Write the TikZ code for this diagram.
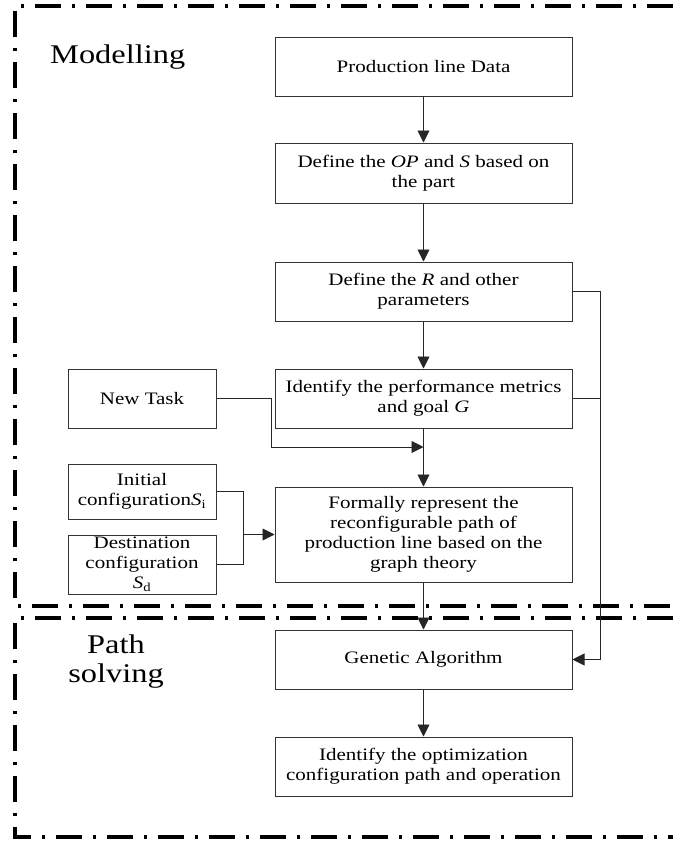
\documentclass[tikz,border=0pt]{standalone}
\usepackage{fontspec}
\setmainfont{Liberation Serif}[FakeStretch=1.2]
\usetikzlibrary{arrows.meta}
\begin{document}
\begin{tikzpicture}[x=1pt,y=-1pt,
  box/.style={draw=black!80, line width=1pt, minimum width=297pt, minimum height=59pt,
    align=center, inner sep=0pt, font=\fontsize{17.5}{20}\selectfont},
  sbox/.style={box, minimum width=148pt},
  arr/.style={draw=black!85, line width=0.9pt, -{Triangle[length=12pt,width=12pt]}},
  conn/.style={draw=black!85, line width=0.9pt},
  region/.style={draw=black, line width=3.2pt, dash pattern=on 26pt off 11pt on 3pt off 11pt},
  lbl/.style={inner sep=0pt, align=center, font=\fontsize{27}{29}\selectfont}]
\useasboundingbox (0,0) rectangle (673,841);

% regions
\draw[region] (673,6) -- (15,6) -- (15,606) -- (673,606);
\draw[region] (673,618) -- (15,618) -- (15,837) -- (673,837);
\node[lbl, anchor=base west] (lm) at (50,63) {Modelling};
\node[lbl] (lp) at (116,661.5) {Path\\solving};

% main column
\node[box] (b1) at (423.5,66.5) {Production line Data};
\node[box, minimum height=60pt] (b2) at (423.5,173) {Define the \textit{OP} and \textit{S} based on\\the part};
\node[box] (b3) at (423.5,291.5) {Define the \textit{R} and other\\parameters};
\node[box] (b4) at (423.5,398.5) {Identify the performance metrics\\and goal \textit{G}};
\node[box, minimum height=95pt] (b5) at (423.5,534.5) {Formally represent the\\reconfigurable path of\\production line based on the\\graph theory};
\node[box] (ga) at (423.5,659.5) {Genetic Algorithm};
\node[box] (opt) at (423.5,766.5) {Identify the optimization\\configuration path and operation};

% left boxes
\node[sbox] (nt) at (142,398.5) {New Task};
\node[sbox, minimum height=55pt] (ini) at (142,491.5) {Initial\\configuration\textit{S}\textsubscript{i}};
\node[sbox] (dst) at (142,564.5) {Destination\\configuration\\\textit{S}\textsubscript{d}};

% connectors
\draw[arr] (b1.south) -- (b2.north);
\draw[arr] (b2.south) -- (b3.north);
\draw[arr] (b3.south) -- (b4.north);
\draw[arr] (b4.south) -- (b5.north);
\coordinate (ntk) at (271,447);
\coordinate (j1) at (423.5,447);
\draw[arr] (nt.east) -| (ntk) -- (j1);
\coordinate (m) at (243,534.5);
\draw[conn] (ini.east) -| (m);
\draw[conn] (dst.east) -| (m);
\draw[arr] (m) -- (b5.west);
\draw[arr] (b5.south) -- (ga.north);
\coordinate (rtop) at (600,291.5);
\coordinate (rbot) at (600,659.5);
\draw[arr] (b3.east) -- (rtop) -- (rbot) -- (ga.east);
\draw[conn] (b4.east) -- (b4.east -| rtop);
\draw[arr] (ga.south) -- (opt.north);
\end{tikzpicture}
\end{document}
